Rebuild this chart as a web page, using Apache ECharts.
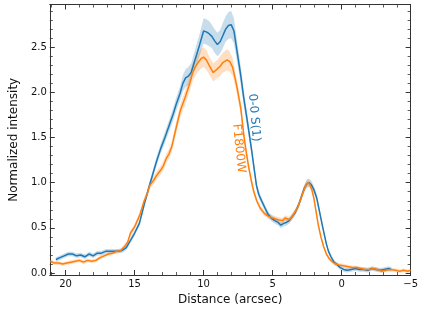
<!DOCTYPE html>
<html><head><meta charset="utf-8">
<script src="https://cdn.jsdelivr.net/npm/echarts@6/dist/echarts.min.js"></script>
<style>html,body{margin:0;padding:0;background:#fff}#c{width:421px;height:311px}</style>
</head><body><div id="c"></div>
<script>
const blueX = [20.7,20.4,20.1,19.8,19.5,19.2,18.9,18.6,18.3,18.0,
  17.7,17.4,17.1,16.8,16.5,16.2,15.9,15.6,15.3,15.0,
  14.65,14.3,13.9,13.4,13.1,12.8,12.5,12.2,12.0,11.7,
  11.5,11.3,11.1,10.9,10.6,10.3,10.0,9.8,9.6,9.4,
  9.2,9.0,8.8,8.6,8.4,8.2,8.0,7.8,7.6,7.3,
  7.1,6.9,6.7,6.5,6.35,6.17,6.0,5.8,5.55,5.33,
  5.1,4.84,4.6,4.4,4.2,4.0,3.8,3.6,3.36,3.1,
  2.9,2.7,2.5,2.35,2.2,2.0,1.8,1.6,1.4,1.26,
  1.1,0.95,0.77,0.55,0.3,0.1,-0.15,-0.4,-0.7,-1.0,
  -1.3,-1.6,-1.9,-2.2,-2.5,-2.8,-3.1,-3.4,-3.6];
const blueY = [0.15,0.17,0.19,0.21,0.21,0.19,0.20,0.18,0.21,0.19,
  0.22,0.22,0.24,0.24,0.24,0.24,0.25,0.28,0.36,0.44,
  0.55,0.76,0.98,1.24,1.38,1.50,1.63,1.76,1.86,1.99,
  2.10,2.16,2.18,2.22,2.37,2.52,2.68,2.67,2.65,2.62,
  2.57,2.53,2.56,2.63,2.70,2.74,2.75,2.68,2.48,2.18,
  1.95,1.75,1.55,1.34,1.17,0.97,0.87,0.80,0.72,0.65,
  0.61,0.58,0.56,0.53,0.55,0.56,0.58,0.62,0.67,0.76,
  0.85,0.94,0.99,1.00,0.98,0.92,0.83,0.68,0.53,0.43,
  0.32,0.24,0.18,0.12,0.09,0.06,0.04,0.03,0.04,0.05,
  0.04,0.04,0.03,0.05,0.04,0.03,0.04,0.05,0.04];
const blueErr = [0.025,0.025,0.025,0.025,0.025,0.025,0.025,0.025,0.025,0.025,
  0.025,0.025,0.025,0.025,0.025,0.025,0.025,0.025,0.03,0.03,
  0.03,0.035,0.04,0.05,0.055,0.06,0.065,0.07,0.075,0.08,
  0.09,0.10,0.10,0.10,0.11,0.12,0.14,0.14,0.14,0.13,
  0.13,0.13,0.13,0.14,0.14,0.15,0.15,0.14,0.12,0.10,
  0.09,0.08,0.07,0.06,0.05,0.045,0.04,0.04,0.035,0.035,
  0.035,0.035,0.035,0.035,0.035,0.035,0.035,0.035,0.035,0.035,
  0.04,0.04,0.045,0.045,0.045,0.04,0.04,0.035,0.03,0.03,
  0.025,0.025,0.025,0.025,0.025,0.025,0.025,0.025,0.025,0.025,
  0.025,0.025,0.025,0.025,0.025,0.025,0.025,0.025,0.025];

const orangeX = [21.1,20.8,20.5,20.2,19.9,19.6,19.3,19.0,18.7,18.4,
  18.1,17.8,17.5,17.2,16.9,16.6,16.3,16.0,15.7,15.5,
  15.3,15.0,14.8,14.6,14.3,14.1,13.9,13.6,13.4,13.1,
  12.9,12.7,12.5,12.3,12.0,11.7,11.3,11.0,10.8,10.6,
  10.4,10.2,10.0,9.8,9.6,9.3,9.0,8.8,8.6,8.3,
  8.1,7.9,7.75,7.57,7.3,7.08,6.9,6.73,6.55,6.38,
  6.15,5.9,5.6,5.33,5.0,4.6,4.3,4.07,3.8,3.6,
  3.4,3.2,3.0,2.8,2.6,2.45,2.3,2.15,2.0,1.85,
  1.7,1.5,1.3,1.1,0.9,0.65,0.42,0.2,-0.14,-0.5,
  -0.8,-1.1,-1.4,-1.7,-2.0,-2.3,-2.6,-2.9,-3.2,-3.5,
  -3.9,-4.2,-4.5,-4.8,-5.0];
const orangeY = [0.13,0.11,0.11,0.10,0.11,0.12,0.13,0.14,0.12,0.14,
  0.13,0.14,0.17,0.19,0.21,0.22,0.24,0.25,0.30,0.34,
  0.44,0.51,0.58,0.65,0.80,0.87,0.97,1.03,1.08,1.14,
  1.19,1.27,1.32,1.40,1.60,1.79,1.96,2.10,2.22,2.28,
  2.33,2.37,2.39,2.36,2.30,2.22,2.26,2.29,2.33,2.36,
  2.34,2.28,2.18,2.05,1.82,1.52,1.33,1.17,1.03,0.91,
  0.80,0.72,0.66,0.63,0.61,0.59,0.58,0.61,0.59,0.62,
  0.67,0.72,0.80,0.89,0.97,1.00,0.98,0.92,0.82,0.68,
  0.54,0.40,0.29,0.21,0.16,0.12,0.10,0.09,0.08,0.07,
  0.06,0.06,0.05,0.04,0.04,0.05,0.04,0.02,0.03,0.04,
  0.03,0.02,0.03,0.02,0.03];
const orangeErr = [0.02,0.02,0.02,0.02,0.02,0.02,0.02,0.02,0.02,0.02,
  0.02,0.02,0.02,0.02,0.02,0.02,0.02,0.02,0.025,0.025,
  0.03,0.03,0.03,0.035,0.04,0.04,0.04,0.045,0.045,0.05,
  0.05,0.05,0.055,0.06,0.065,0.07,0.08,0.09,0.10,0.10,
  0.10,0.11,0.11,0.11,0.10,0.10,0.10,0.11,0.11,0.12,
  0.11,0.10,0.09,0.08,0.07,0.06,0.05,0.045,0.04,0.035,
  0.03,0.03,0.03,0.03,0.03,0.03,0.03,0.03,0.03,0.03,
  0.03,0.03,0.035,0.035,0.04,0.04,0.04,0.035,0.035,0.03,
  0.025,0.025,0.02,0.02,0.02,0.02,0.02,0.02,0.02,0.02,
  0.02,0.02,0.02,0.02,0.02,0.02,0.02,0.02,0.02,0.02,
  0.02,0.02,0.02,0.02,0.02];

const xTickLabels = [20, 15, 10, 5, 0, -5];
const yTickLabels = [0.0, 0.5, 1.0, 1.5, 2.0, 2.5];
const seriesNames = ['0-0 S(1)', 'F1800W'];
const labelAnchors = [[6.34, 1.72], [7.45, 1.38]];

const BLUE = '#1f77b4', ORANGE = '#ff7f0e';
const FONT = 'DejaVu Sans';
const X_MIN = -5, X_MAX = 21.14, Y_MIN = -0.022, Y_MAX = 2.973;

const chart = echarts.init(document.getElementById('c'), null, {renderer: 'canvas'});

function fmtX(v) {
  if (!xTickLabels.some(t => Math.abs(t - v) < 1e-6)) return '';
  return v < 0 ? '\u2212' + Math.abs(v) : String(v);
}
function fmtY(v) {
  if (!yTickLabels.some(t => Math.abs(t - v) < 1e-6)) return '';
  return Math.abs(v).toFixed(1);
}

const axisLine = {show: true, onZero: false, lineStyle: {color: '#333', width: 1}};
const axisTick = {show: true, inside: true, length: 5, lineStyle: {color: '#333', width: 1}};
const minorTick = {show: true, splitNumber: 5, length: 3, lineStyle: {color: '#333', width: 0.8}};

function xAx(pos, labels) {
  return {
    type: 'value', position: pos, min: X_MIN, max: X_MAX, inverse: true, interval: 5,
    axisLine, axisTick, minorTick, splitLine: {show: false},
    axisLabel: {show: labels, formatter: fmtX, fontFamily: FONT, fontSize: 10, color: '#111', margin: 4,
      showMinLabel: true, showMaxLabel: true, hideOverlap: false},
    name: labels ? 'Distance (arcsec)' : '', nameLocation: 'middle', nameGap: 19,
    nameTextStyle: {fontFamily: FONT, fontSize: 12, color: '#111'}
  };
}
function yAx(pos, labels) {
  return {
    type: 'value', position: pos, min: Y_MIN, max: Y_MAX, splitNumber: 6, minInterval: 0.5, maxInterval: 0.5,
    axisLine, axisTick, minorTick, splitLine: {show: false},
    axisLabel: {show: labels, formatter: fmtY, fontFamily: FONT, fontSize: 10, color: '#111', margin: 3,
      hideOverlap: false},
    name: labels ? 'Normalized intensity' : '', nameLocation: 'middle', nameGap: 26,
    nameTextStyle: {fontFamily: FONT, fontSize: 12, color: '#111'}
  };
}

function band(xs, ys, es, fill) {
  return {
    type: 'custom', xAxisIndex: 0, yAxisIndex: 0, silent: true, clip: true, z: 1,
    data: [[xs[0], ys[0]]],
    renderItem: function (params, api) {
      const pts = [];
      for (let i = 0; i < xs.length; i++) pts.push(api.coord([xs[i], ys[i] + es[i]]));
      for (let i = xs.length - 1; i >= 0; i--) pts.push(api.coord([xs[i], ys[i] - es[i]]));
      return {type: 'polygon', shape: {points: pts}, style: {fill: fill}};
    }
  };
}
function line(name, xs, ys, color) {
  return {
    type: 'line', name, xAxisIndex: 0, yAxisIndex: 0, showSymbol: false, symbol: 'none', z: 3,
    data: xs.map((x, i) => [x, ys[i]]),
    lineStyle: {color, width: 1.5}, itemStyle: {color}, animation: false, clip: true
  };
}

chart.setOption({
  animation: false,
  backgroundColor: '#fff',
  grid: {left: 40, right: 9, top: 4.5, bottom: 33, containLabel: false},
  xAxis: [xAx('bottom', true), xAx('top', false)],
  yAxis: [yAx('left', true), yAx('right', false)],
  series: [
    band(blueX, blueY, blueErr, 'rgba(31,119,180,0.25)'),
    band(orangeX, orangeY, orangeErr, 'rgba(255,127,14,0.25)'),
    line(seriesNames[0], blueX, blueY, BLUE),
    line(seriesNames[1], orangeX, orangeY, ORANGE)
  ]
});

const colors = [BLUE, ORANGE];
const rots = [-85, -84];
chart.setOption({
  graphic: labelAnchors.map((a, i) => {
    const p = chart.convertToPixel({xAxisIndex: 0, yAxisIndex: 0}, a);
    return {
      type: 'text', x: p[0], y: p[1], rotation: rots[i] * Math.PI / 180, z: 10,
      style: {text: seriesNames[i], fill: colors[i], font: '12px "DejaVu Sans"', align: 'center', verticalAlign: 'middle'}
    };
  })
});
</script>
</body></html>
